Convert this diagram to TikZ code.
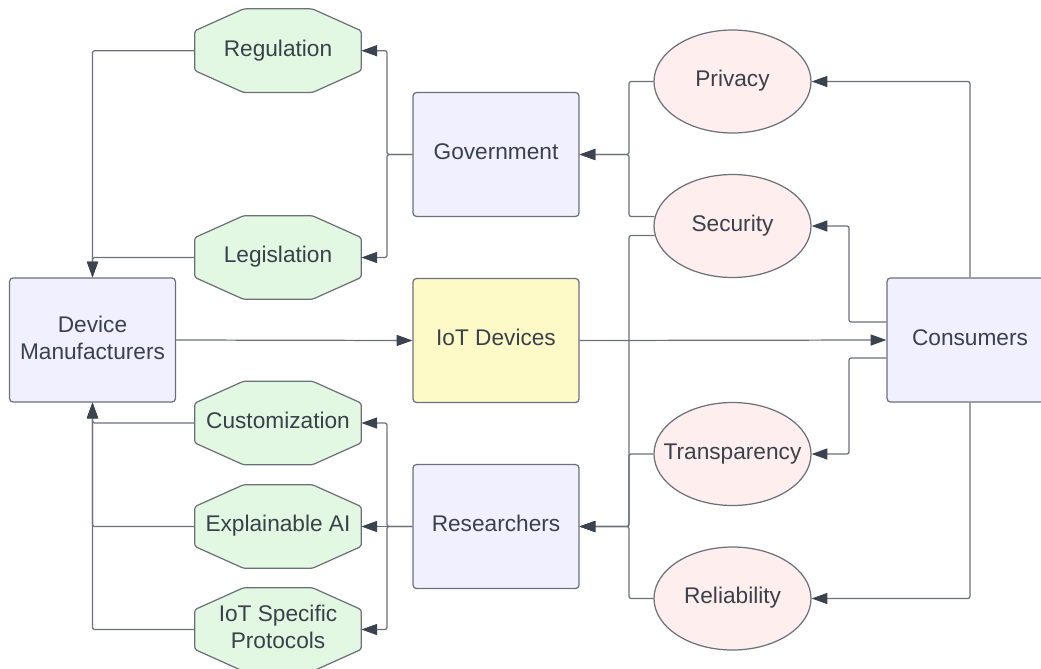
\documentclass[tikz,border=0pt]{standalone}
\usepackage{fontspec}
\setmainfont{Liberation Sans}
\usetikzlibrary{arrows.meta,shapes.geometric,backgrounds}

\definecolor{ink}{HTML}{3A414A}
\definecolor{edge}{HTML}{6B7079}
\definecolor{tip}{HTML}{3B4250}
\definecolor{boxfill}{HTML}{F0F0FE}
\definecolor{iotfill}{HTML}{FDFAC8}
\definecolor{octfill}{HTML}{E2F8E2}
\definecolor{ovalfill}{HTML}{FFEEEE}

\begin{document}
\begin{tikzpicture}[x=2mm,y=2mm]
    \tikzstyle{every node}+=[inner sep=0pt, text=ink, font=\fontsize{12.9}{15.4}\selectfont, text height=10.8pt, text depth=4.6pt]
    \tikzstyle{actor}=[draw=edge, line width=0.7pt, fill=boxfill, rounded corners=2pt, minimum width=3.32cm, minimum height=2.48cm]
    \tikzstyle{policy}=[minimum width=3.32cm, minimum height=1.66cm]
    \tikzstyle{octa}=[draw=edge, line width=0.7pt, fill=octfill, rounded corners=1.5pt]
    \tikzstyle{concern}=[ellipse, draw=edge, line width=0.7pt, fill=ovalfill, minimum width=3.14cm, minimum height=2.06cm]
    \tikzstyle{link}=[draw=edge, line width=0.7pt, rounded corners=1.2pt, -{Triangle[length=9pt,width=6.3pt,color=tip]}]
    \useasboundingbox (0,0) rectangle (104.1,-66.8);

    % stakeholders
    \node[actor] (dm) at (9.25,-34.0) {\begin{tabular}{@{}c@{}}Device\\Manufacturers\end{tabular}};
    \node[actor, fill=iotfill] (iot) at (49.6,-34.05) {IoT Devices};
    \node[actor] (gov) at (49.6,-15.45) {Government};
    \node[actor] (res) at (49.6,-52.65) {Researchers};
    \node[actor] (con) at (97.0,-34.0) {Consumers};

    % octagons, outline drawn below
    \node[policy] (reg) at (27.8,-5.07) {Regulation};
    \node[policy] (leg) at (27.8,-25.75) {Legislation};
    \node[policy] (cust) at (27.8,-42.3) {Customization};
    \node[policy] (xai) at (27.8,-52.65) {Explainable AI};
    \node[policy] (iotp) at (27.8,-62.95) {\begin{tabular}{@{}c@{}}IoT Specific\\Protocols\end{tabular}};

    % ellipses
    \node[concern, label=center:Privacy] (priv) at (73.25,-8.15) {};
    \node[concern, label=center:Security] (sec) at (73.25,-22.6) {};
    \node[concern, label=center:Transparency] (tra) at (73.25,-45.4) {};
    \node[concern, label=center:Reliability] (rel) at (73.25,-59.85) {};

    \begin{pgfonlayer}{background}
    \foreach \n in {reg,leg,cust,xai,iotp}
        \draw[octa] ([xshift=0.98cm]\n.north west) -- ([xshift=-0.98cm]\n.north east)
            -- ([yshift=-0.44cm]\n.north east) -- ([yshift=0.44cm]\n.south east)
            -- ([xshift=-0.98cm]\n.south east) -- ([xshift=0.98cm]\n.south west)
            -- ([yshift=0.44cm]\n.south west) -- ([yshift=-0.44cm]\n.north west) -- cycle;
    \end{pgfonlayer}

    \coordinate (lbus) at (38.7,0);
    \coordinate (rbus) at (62.9,0);
    \coordinate (cbus) at (84.9,0);

    % government branch
    \draw[link] (gov.west) -- (lbus |- gov.west) |- (reg.east);
    \draw[link] (gov.west) -- (lbus |- gov.west) |- (leg.east);
    \draw[link] (reg.west) -| (dm.north);
    \draw[link] (leg.west) -| (dm.north);

    % researchers branch
    \draw[link] (res.west) -- (lbus |- res.west) |- (cust.east);
    \draw[link] (res.west) -- (xai.east);
    \draw[link] (res.west) -- (lbus |- res.west) |- (iotp.east);
    \draw[link] (cust.west) -| (dm.south);
    \draw[link] (xai.west) -| (dm.south);
    \draw[link] (iotp.west) -| (dm.south);

    % concerns feeding back
    \draw[link] (priv.west) -| (rbus |- gov.east) -- (gov.east);
    \draw[link] (sec.173) -| (rbus |- gov.east) -- (gov.east);
    \draw[link] (sec.187) -| (rbus |- res.east) -- (res.east);
    \draw[link] (tra.west) -| (rbus |- res.east) -- (res.east);
    \draw[link] (rel.west) -| (rbus |- res.east) -- (res.east);

    % main flow
    \draw[link] (dm.east) -- (iot.west);
    \draw[link] (iot.east) -- (con.west);

    % consumers
    \draw[link] (con.north) |- (priv.east);
    \draw[link] ([yshift=0.36cm]con.west) -| (cbus |- sec.east) -- (sec.east);
    \draw[link] ([yshift=-0.36cm]con.west) -| (cbus |- tra.east) -- (tra.east);
    \draw[link] (con.south) |- (rel.east);
\end{tikzpicture}
\end{document}
